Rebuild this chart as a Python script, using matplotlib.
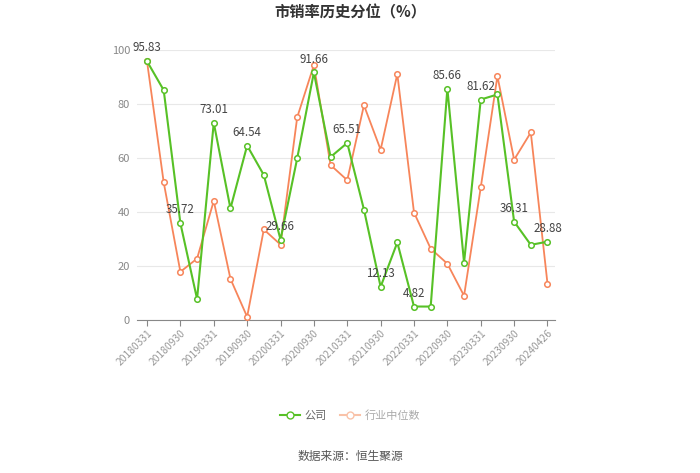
import matplotlib
matplotlib.use("Agg")
import matplotlib.pyplot as plt
from matplotlib.lines import Line2D

plt.rcParams['font.family'] = ['Noto Sans CJK SC', 'DejaVu Sans']

# quarterly dates, last one is the latest day
dates = ["20180331", "20180630", "20180930", "20181231",
         "20190331", "20190630", "20190930", "20191231",
         "20200331", "20200630", "20200930", "20201231",
         "20210331", "20210630", "20210930", "20211231",
         "20220331", "20220630", "20220930", "20221231",
         "20230331", "20230630", "20230930", "20231231",
         "20240426"]
company = [95.83, 85.1, 35.72, 7.6, 73.01, 41.2, 64.54, 53.6,
           29.66, 59.8, 91.66, 60.3, 65.51, 40.8, 12.13, 28.6,
           4.82, 4.8, 85.66, 21.1, 81.62, 83.5, 36.31, 27.7, 28.88]
industry = [95.8, 50.9, 17.7, 22.6, 44.0, 15.1, 1.0, 33.4,
            27.8, 75.0, 94.4, 57.3, 51.7, 79.5, 63.0, 91.1,
            39.7, 26.3, 20.7, 8.8, 49.0, 90.3, 59.3, 69.4, 13.3]

green = "#57c126"
orange = "#f7855a"
x = list(range(len(dates)))

fig = plt.figure(figsize=(7, 4.73), dpi=100)
ax = fig.add_axes([137/700, 1-319.5/473, (555-137)/700, (319.5-50)/473])

ax.plot(x, industry, color=orange, lw=1.3, marker='o', ms=4,
        mfc='white', mec=orange, mew=1.1, zorder=3)
ax.plot(x, company, color=green, lw=1.5, marker='o', ms=4,
        mfc='white', mec=green, mew=1.1, zorder=4)

for i in range(0, len(x), 2):
    ax.annotate(f"{company[i]:.2f}", (x[i], company[i]), xytext=(0, 5),
                textcoords='offset points', ha='center', va='bottom',
                fontsize=8.3, color='#444444', zorder=5)

ax.set_ylim(0, 100)
ax.set_xlim(-0.6, 24.45)
ax.set_yticks([0, 20, 40, 60, 80, 100])
ax.set_xticks(x[::2])
ax.set_xticklabels(dates[::2], rotation=45, ha='right', rotation_mode='anchor')
ax.tick_params(axis='y', length=0, labelsize=8, labelcolor='#888888', pad=5)
ax.tick_params(axis='x', length=4, color='#888888', labelsize=7.4,
               labelcolor='#999999', pad=2)
ax.grid(axis='y', color='#e8e8e8', lw=0.8)
ax.set_axisbelow(True)
for s in ['top', 'right', 'left']:
    ax.spines[s].set_visible(False)
ax.spines['bottom'].set_color('#888888')
ax.spines['bottom'].set_linewidth(0.8)

fig.text(0.5, 1-12/473, "市销率历史分位（%）", ha='center', va='center',
         fontsize=11, fontweight='bold', color='#333333')

handles = [
    Line2D([0], [0], color=green, lw=1.5, marker='o', ms=5, mfc='white', mec=green),
    Line2D([0], [0], color='#f9c2a8', lw=1.5, marker='o', ms=5, mfc='white', mec='#f9c2a8'),
]
leg = fig.legend(handles, ["公司", "行业中位数"], loc='center',
                 bbox_to_anchor=(0.5, 1-416/473), ncol=2, frameon=False,
                 fontsize=8, handlelength=1.8, columnspacing=1.2, handletextpad=0.4)
for t in leg.get_texts():
    t.set_color('#666666')
leg.get_texts()[1].set_color('#aaaaaa')

fig.text(0.5, 1-456/473, "数据来源：恒生聚源", ha='center', va='center',
         fontsize=8.5, color='#555555')

fig.savefig("out.png", dpi=100)
